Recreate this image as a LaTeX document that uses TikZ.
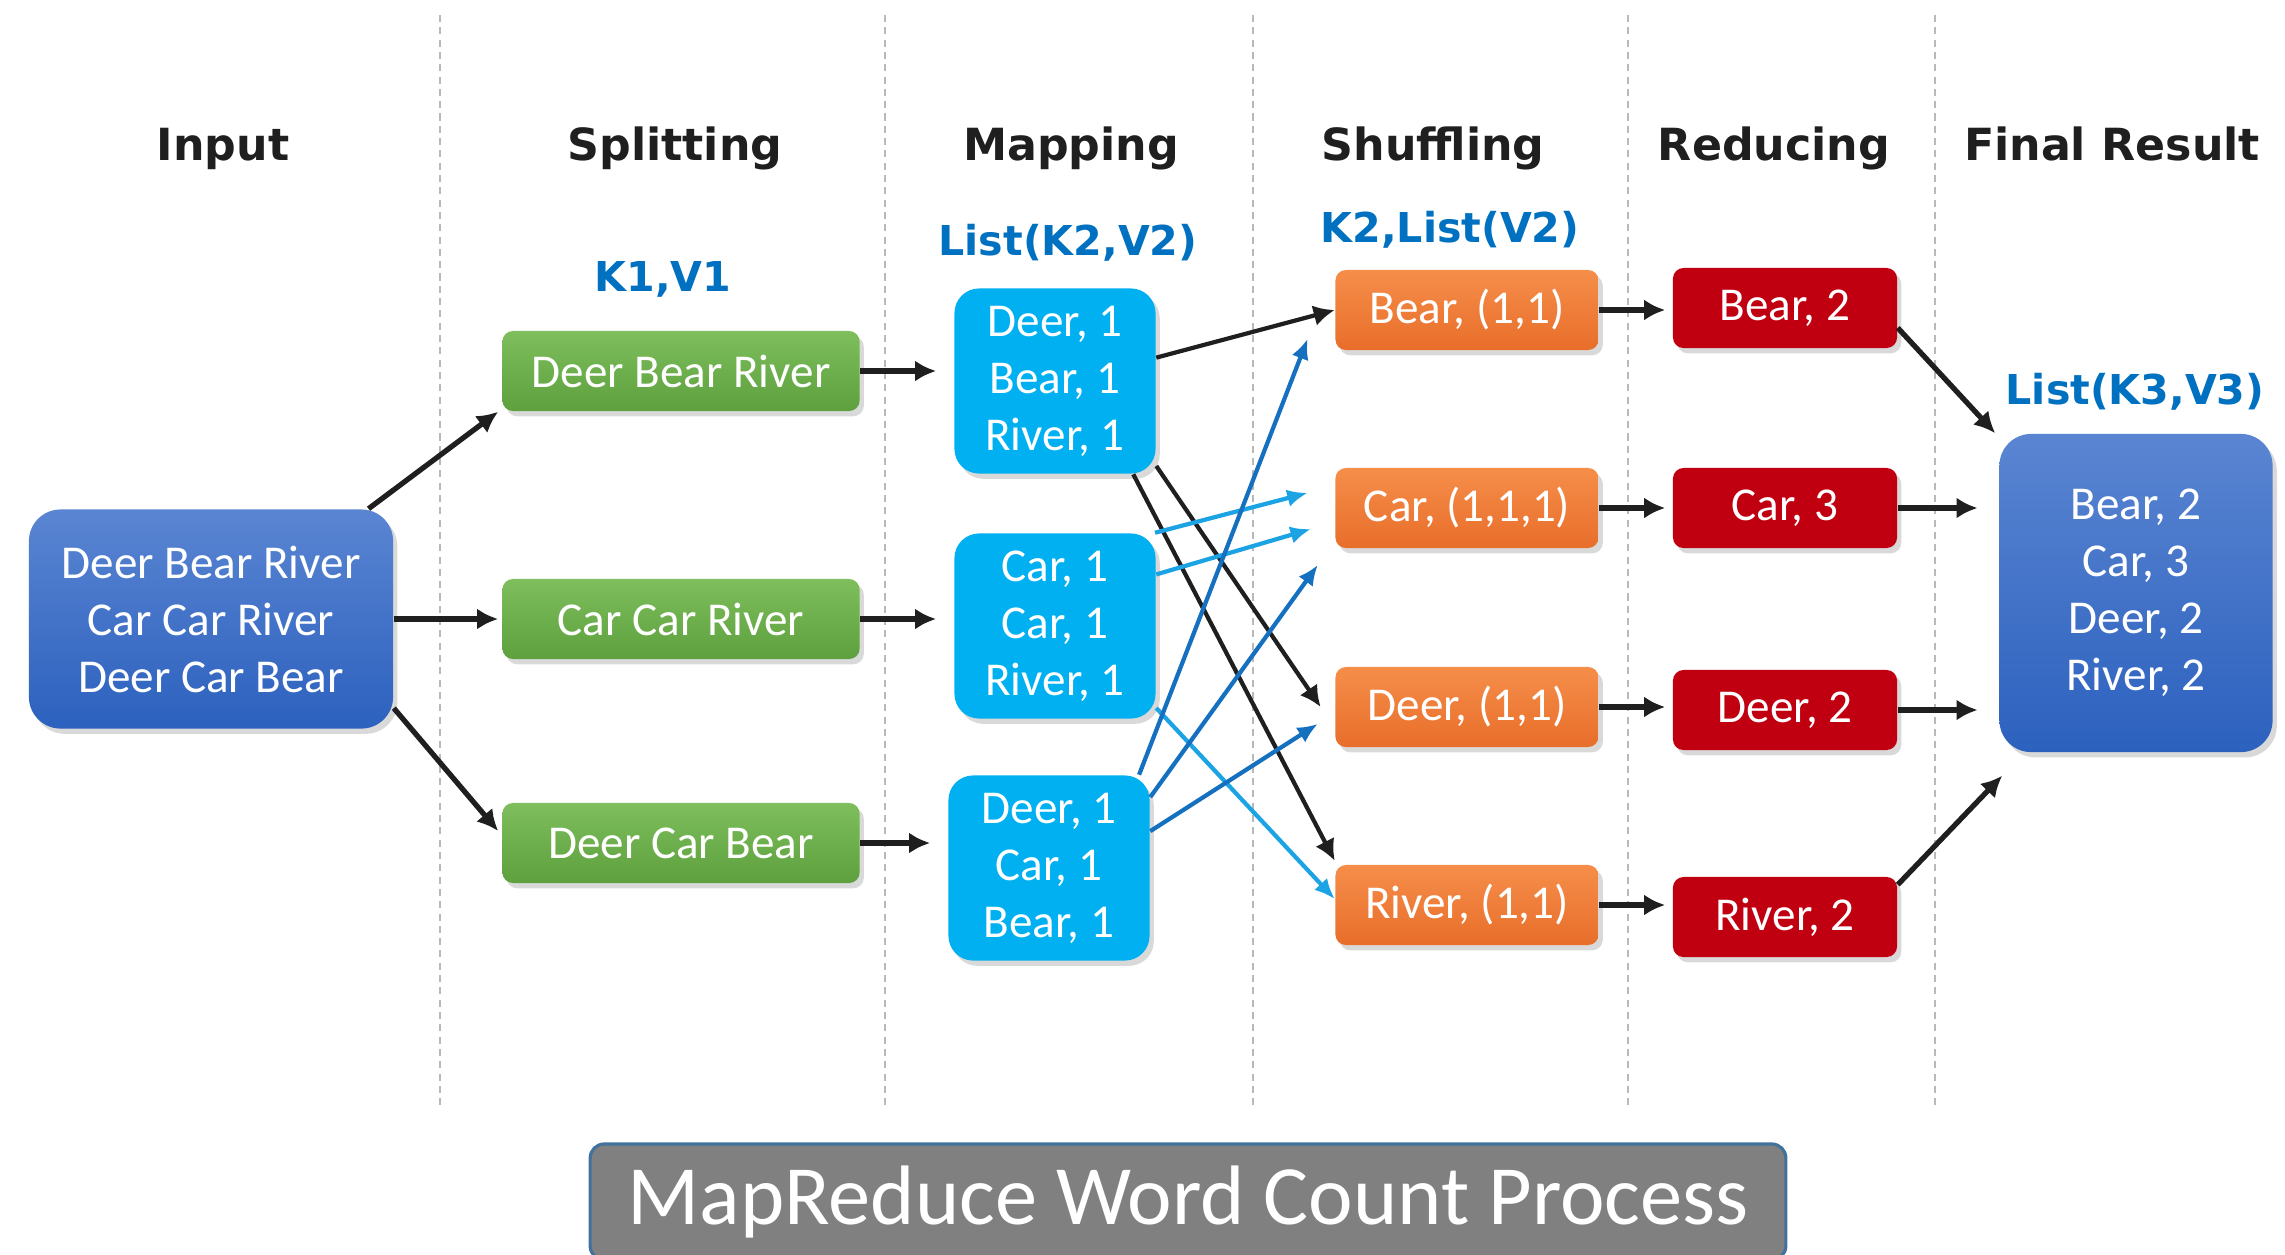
\documentclass[tikz,border=0pt]{standalone}
\usepackage{fontspec}
\setmainfont{Carlito}
\newfontfamily\headfont{DejaVu Sans}
\usetikzlibrary{arrows.meta,shadows}
\definecolor{inblueT}{RGB}{90,133,210}
\definecolor{inblueB}{RGB}{44,97,190}
\definecolor{splitT}{RGB}{126,190,92}
\definecolor{splitB}{RGB}{94,160,62}
\definecolor{mapcyan}{RGB}{0,176,240}
\definecolor{shufT}{RGB}{245,142,74}
\definecolor{shufB}{RGB}{232,110,42}
\definecolor{redred}{RGB}{192,0,16}
\definecolor{labblue}{RGB}{0,112,192}
\definecolor{arrlight}{RGB}{28,163,228}
\definecolor{arrdark}{RGB}{22,112,192}
\definecolor{titlegray}{RGB}{128,128,128}
\definecolor{titleedge}{RGB}{65,113,156}

\begin{document}
\begin{tikzpicture}[
  x=0.01cm, y=-0.01cm,
  every node/.style={font=\fontsize{13.4}{16.2}\selectfont, text=white, align=center, inner sep=0pt},
  phase/.style={anchor=base, text=black!88, font=\headfont\bfseries\fontsize{12.6}{15}\selectfont},
  kvlabel/.style={anchor=base, text=labblue, font=\headfont\bfseries\fontsize{11.7}{14}\selectfont},
  boxshadow/.style={drop shadow={shadow xshift=1.2pt, shadow yshift=-1.5pt, opacity=0.3}},
  inbox/.style={boxshadow, rounded corners=9pt, top color=inblueT, bottom color=inblueB, minimum width=3.64cm, minimum height=2.19cm},
  splitbox/.style={boxshadow, rounded corners=3pt, top color=splitT, bottom color=splitB, minimum width=3.57cm, minimum height=0.8cm},
  mapbox/.style={boxshadow, rounded corners=7pt, fill=mapcyan, minimum width=2.01cm, minimum height=1.85cm},
  shufbox/.style={boxshadow, rounded corners=3pt, top color=shufT, bottom color=shufB, minimum width=2.63cm, minimum height=0.8cm},
  redbox/.style={boxshadow, rounded corners=3pt, fill=redred, minimum width=2.24cm, minimum height=0.8cm},
  finbox/.style={boxshadow, rounded corners=9pt, top color=inblueT, bottom color=inblueB, minimum width=2.73cm, minimum height=3.18cm},
  titlebox/.style={rounded corners=4pt, fill=titlegray, draw=titleedge, line width=0.9pt, minimum width=11.95cm, minimum height=1.16cm, font=\fontsize{24}{28}\selectfont},
  sepline/.style={gray!55, line width=0.45pt, dash pattern=on 2pt off 1.5pt},
  arr/.style={-{Latex[length=6pt,width=6pt]}, line width=1.5pt, draw=black!88},
  arrlt/.style={arr, draw=arrlight, line width=1.2pt, -{Latex[length=5.8pt,width=5pt]}},
  arrdk/.style={arr, draw=arrdark, line width=1.2pt, -{Latex[length=5.8pt,width=5pt]}}
]
\useasboundingbox (0,0) rectangle (2285,1254);
\foreach \xx in {440,885,1253,1628,1935}
  \draw[sepline] (\xx,15) -- (\xx,1108);

\node[phase] (hin) at (223,160) {Input};
\node[phase] (hsplit) at (675,160) {Splitting};
\node[phase] (hmap) at (1071,160) {Mapping};
\node[phase] (hshuf) at (1433,160) {Shuffling};
\node[phase] (hred) at (1774,160) {Reducing};
\node[phase] (hfin) at (2112,160) {Final Result};

\node[kvlabel] (kv1) at (663,291) {K1,V1};
\node[kvlabel] (kv2) at (1068,255) {List(K2,V2)};
\node[kvlabel] (kv3) at (1450,242) {K2,List(V2)};
\node[kvlabel] (kv4) at (2135,404) {List(K3,V3)};

\node[inbox] (in) at (211,619) {Deer Bear River\\Car Car River\\Deer Car Bear};
\node[splitbox] (sp1) at (681,371) {Deer Bear River};
\node[splitbox] (sp2) at (681,619) {Car Car River};
\node[splitbox] (sp3) at (681,843) {Deer Car Bear};
\node[mapbox] (mp1) at (1055,381) {Deer, 1\\Bear, 1\\River, 1};
\node[mapbox] (mp2) at (1055,626) {Car, 1\\Car, 1\\River, 1};
\node[mapbox] (mp3) at (1049,868) {Deer, 1\\Car, 1\\Bear, 1};
\node[shufbox] (sh1) at (1467,310) {Bear, (1,1)};
\node[shufbox] (sh2) at (1467,508) {Car, (1,1,1)};
\node[shufbox] (sh3) at (1467,707) {Deer, (1,1)};
\node[shufbox] (sh4) at (1467,905) {River, (1,1)};
\node[redbox] (rd1) at (1785,308) {Bear, 2};
\node[redbox] (rd2) at (1785,508) {Car, 3};
\node[redbox] (rd3) at (1785,710) {Deer, 2};
\node[redbox] (rd4) at (1785,917) {River, 2};
\node[finbox] (fin) at (2136,593) {Bear, 2\\Car, 3\\Deer, 2\\River, 2};
\node[titlebox] (ttl) at (1188,1202) {MapReduce Word Count Process};

\draw[arr] (in.35) -- ([xshift=-1pt]sp1.south west);
\draw[arr, shorten >=1pt] (in.east) -- (sp2.west);
\draw[arr] (in.-26) -- ([xshift=-1pt,yshift=3.4pt]sp3.west);
\foreach \i in {1,2,3}
  \draw[arr, shorten >=5pt] (sp\i.east) -- (sp\i.east -| mp\i.west);

\draw[arr, line width=1.2pt] (mp1.13) -- (sh1.west);
\draw[arr, line width=1.2pt] (mp1.-40) -- ([xshift=-4pt]sh3.west);
\draw[arr, line width=1.2pt] (mp1.-50) -- ([yshift=1pt]sh4.north west);
\draw[arrlt] (mp2.43) -- ([xshift=-7.7pt,yshift=4.3pt]sh2.west);
\draw[arrlt] (mp2.27) -- ([xshift=-6.8pt,yshift=-6pt]sh2.west);
\draw[arrlt] (mp2.-39) -- ([yshift=1.7pt]sh4.west);
\draw[arrdk] (mp3.46) -- ([xshift=-7.7pt,yshift=3.4pt]sh1.south west);
\draw[arrdk] (mp3.35) -- ([xshift=-4.8pt,yshift=-4.6pt]sh2.south west);
\draw[arrdk] (mp3.20) -- ([xshift=-4.8pt,yshift=-4.8pt]sh3.west);

\foreach \i in {1,...,4}
  \draw[arr, shorten >=2pt] (sh\i.east) -- (sh\i.east -| rd\i.west);
\draw[arr] (rd1.-10) -- ([xshift=-1pt]fin.north west);
\draw[arr, shorten >=6pt] (rd2.east) -- (rd2.east -| fin.west);
\draw[arr, shorten >=6pt] (rd3.east) -- (rd3.east -| fin.west);
\draw[arr] (rd4.16) -- ([xshift=1pt,yshift=-6.5pt]fin.south west);
\end{tikzpicture}
\end{document}
